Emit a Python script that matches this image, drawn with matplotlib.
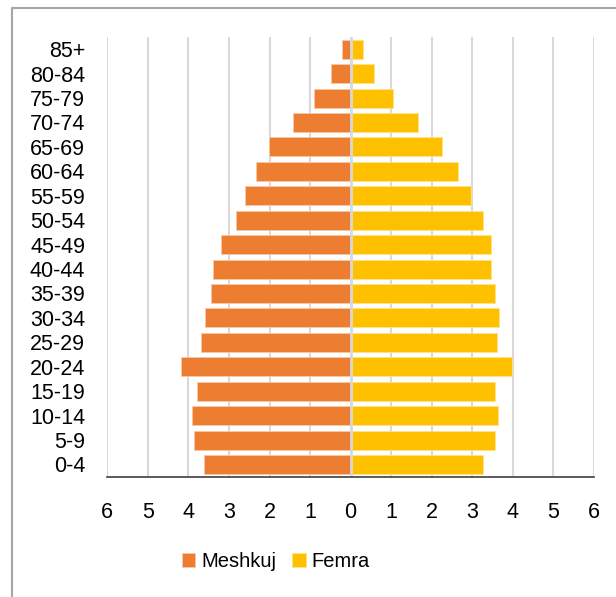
import numpy as np
import matplotlib
matplotlib.use("Agg")
from matplotlib import pyplot as plt
from matplotlib.lines import Line2D

groups = ["0-4", "5-9", "10-14", "15-19", "20-24", "25-29", "30-34", "35-39",
          "40-44", "45-49", "50-54", "55-59", "60-64", "65-69", "70-74",
          "75-79", "80-84", "85+"]
meshkuj = [3.62, 3.87, 3.90, 3.78, 4.18, 3.69, 3.59, 3.44,
           3.40, 3.20, 2.82, 2.61, 2.34, 2.01, 1.43, 0.90, 0.49, 0.21]
femra = [3.27, 3.56, 3.64, 3.57, 3.98, 3.60, 3.67, 3.55,
         3.45, 3.46, 3.26, 2.96, 2.65, 2.25, 1.65, 1.05, 0.58, 0.30]
xticks = [-6, -5, -4, -3, -2, -1, 0, 1, 2, 3, 4, 5, 6]

plt.rcParams['font.family'] = ['Liberation Sans', 'DejaVu Sans']

fig = plt.figure(figsize=(6.16, 5.97), dpi=100)
ax = fig.add_axes([107.3/616, 1-476.7/597, (594-107.3)/616, (476.7-37)/597])

y = np.arange(len(groups))
ax.barh(y, -np.array(meshkuj), height=0.78, color="#ED7D31", edgecolor="#F8C9A8",
        linewidth=0.6, zorder=2, label="Meshkuj")
ax.barh(y, femra, height=0.78, color="#FFC000", edgecolor="#FFE38A",
        linewidth=0.6, zorder=2, label="Femra")

ax.set_xlim(-6, 6)
ax.set_ylim(-0.5, len(groups) - 0.5)
ax.set_xticks(xticks)
ax.set_xticklabels([str(abs(t)) for t in xticks])
ax.set_yticks(y)
ax.set_yticklabels(groups)
ax.tick_params(axis="both", length=0, labelsize=15.5, colors="black")
ax.tick_params(axis="y", pad=16)
ax.tick_params(axis="x", pad=18)

for t in xticks:
    ax.axvline(t, color="#D9D9D9", linewidth=1.5, zorder=1)
ax.axvline(0, color="#D9D9D9", linewidth=2, zorder=3)

for s in ["top", "right", "left"]:
    ax.spines[s].set_visible(False)
ax.spines["bottom"].set_color("#404040")
ax.spines["bottom"].set_linewidth(1.2)
ax.spines["bottom"].set_zorder(4)

# chart frame
fig.add_artist(Line2D([12/616, 12/616, 1.0], [0, 1-8/597, 1-8/597],
                      transform=fig.transFigure, color="#A6A6A6", linewidth=1.5))

fig.legend(loc="center", bbox_to_anchor=(276/616, 1-561.7/597), ncol=2,
           frameon=False, fontsize=14.5, handlelength=0.65, handleheight=0.65,
           handletextpad=0.3, columnspacing=0.8)

fig.savefig("out.png", dpi=100)
